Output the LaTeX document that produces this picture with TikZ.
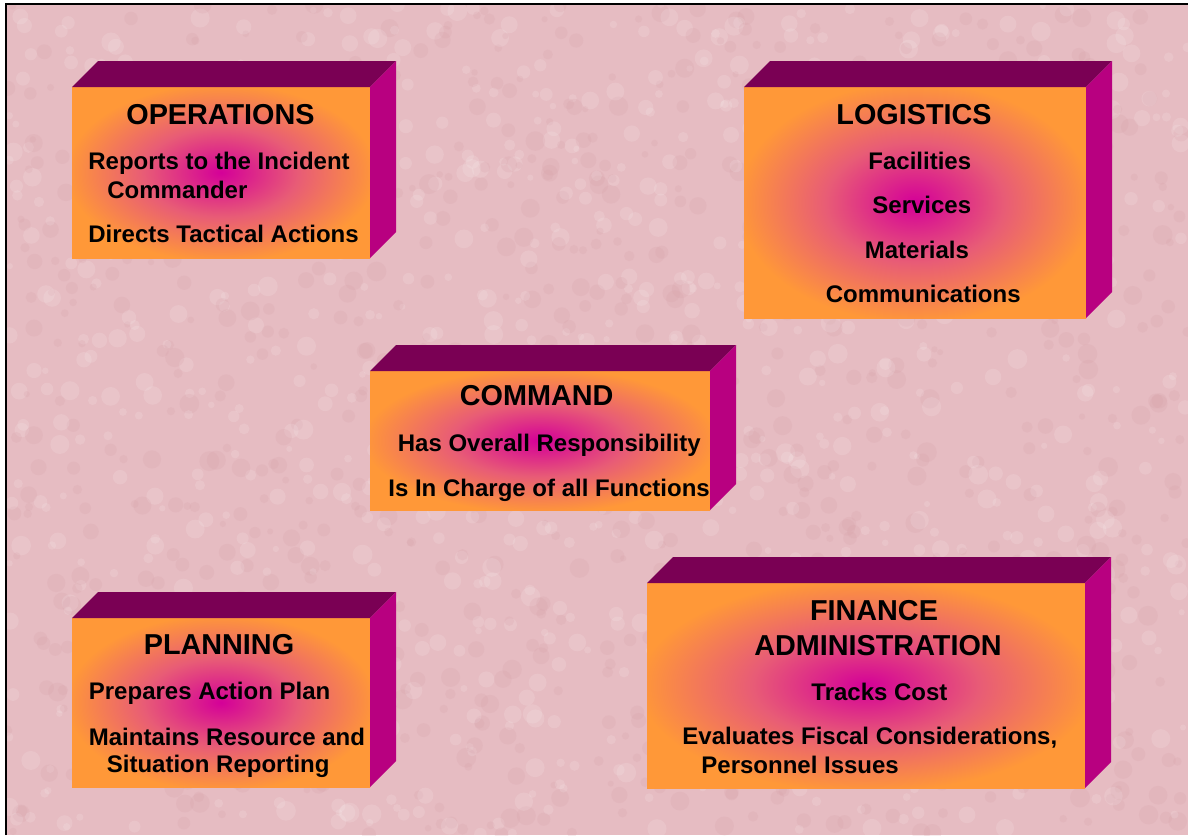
\documentclass[tikz,border=0pt]{standalone}
\usepackage{fontspec}
\setmainfont{Liberation Sans}
\usepackage{tikz}
\definecolor{icsorange}{RGB}{255,152,56}
\definecolor{icsmag}{RGB}{212,0,152}
\definecolor{icsmid}{RGB}{232,92,118}
\definecolor{icstop}{RGB}{122,0,84}
\definecolor{icsside}{RGB}{184,0,128}
\definecolor{icspink}{RGB}{230,188,194}
\definecolor{icsspot}{RGB}{212,156,164}
\pgfdeclareradialshading{icsglow}{\pgfpoint{0bp}{0bp}}{color(0bp)=(icsmag); color(13bp)=(icsmid); color(26bp)=(icsorange); color(50bp)=(icsorange)}

\begin{document}
\begin{tikzpicture}[x=0.5pt, y=-0.5pt,
    front/.style={shade, shading=icsglow, inner sep=0pt, outer sep=0pt, anchor=north west},
    topface/.style={fill=icstop},
    sideface/.style={fill=icsside},
    title/.style={font=\fontsize{14.4}{17}\selectfont\bfseries, inner sep=0pt, anchor=base},
    item/.style={font=\fontsize{12}{14}\selectfont\bfseries, inner sep=0pt, anchor=base west}]
    % Fundo
    \useasboundingbox (0,0) rectangle (1188,835);
    \fill[white] (0,0) rectangle (1188,835);
    \fill[icspink] (6,4) rectangle (1188,835);
    \begin{scope}
      \clip (6,4) rectangle (1188,835);
      \pgfmathsetseed{11}
      \foreach \i in {1,...,900} {
        \pgfmathsetmacro\px{6+rnd*1182}
        \pgfmathsetmacro\py{4+rnd*831}
        \pgfmathsetmacro\pr{3+rnd*7}
        \fill[icsspot, opacity=0.18] (\px,\py) circle (\pr);
        \pgfmathsetmacro\qx{6+rnd*1182}
        \pgfmathsetmacro\qy{4+rnd*831}
        \fill[white, opacity=0.12] (\qx,\qy) circle (\pr);
      }
    \end{scope}
    \draw[line width=1pt] (6,835) -- (6,4) -- (1188,4);
    % Caixas
    \foreach \nm/\x/\y/\w/\h in {ops/72/87/298/171, log/744/87/342/231, cmd/370/371/340/139,
                                 plan/72/618/298/169, fin/647/583/438/205} {
      \node[front, minimum width=\w*0.5pt, minimum height=\h*0.5pt] (\nm) at (\x,\y) {};
      \fill[topface] (\nm.north west) -- ++(26,-26) -- ([shift={(26,-26)}]\nm.north east) -- (\nm.north east) -- cycle;
      \fill[sideface] (\nm.north east) -- ++(26,-26) -- ([shift={(26,-26)}]\nm.south east) -- (\nm.south east) -- cycle;
    }
    % Operations
    \node[title] (opsT) at (220.5,124.5) {OPERATIONS};
    \node[item] (ops1) at (88,169) {Reports to the Incident};
    \node[item] (ops2) at (107,198) {Commander};
    \node[item] (ops3) at (88,242.5) {Directs Tactical Actions};
    % Logistics
    \node[title] (logT) at (914,124.5) {LOGISTICS};
    \node[item] (log1) at (868,169) {Facilities};
    \node[item] (log2) at (872,213.5) {Services};
    \node[item] (log3) at (864.5,258.5) {Materials};
    \node[item] (log4) at (825.5,302.5) {Communications};
    % Command
    \node[title] (cmdT) at (536.7,405.5) {COMMAND};
    \node[item] (cmd1) at (397.5,451.5) {Has Overall Responsibility};
    \node[item] (cmd2) at (388,496) {Is In Charge of all Functions};
    % Planning
    \node[title] (planT) at (219,654) {PLANNING};
    \node[item] (plan1) at (88.5,699) {Prepares Action Plan};
    \node[item] (plan2) at (88.5,745) {Maintains Resource and};
    \node[item] (plan3) at (106.5,772.5) {Situation Reporting};
    % Finance
    \node[title] (finT) at (874,620) {FINANCE};
    \node[title] (finT2) at (878,655) {ADMINISTRATION};
    \node[item] (fin1) at (811,700) {Tracks Cost};
    \node[item] (fin2) at (682,744) {Evaluates Fiscal Considerations,};
    \node[item] (fin3) at (701,773) {Personnel Issues};
\end{tikzpicture}
\end{document}
